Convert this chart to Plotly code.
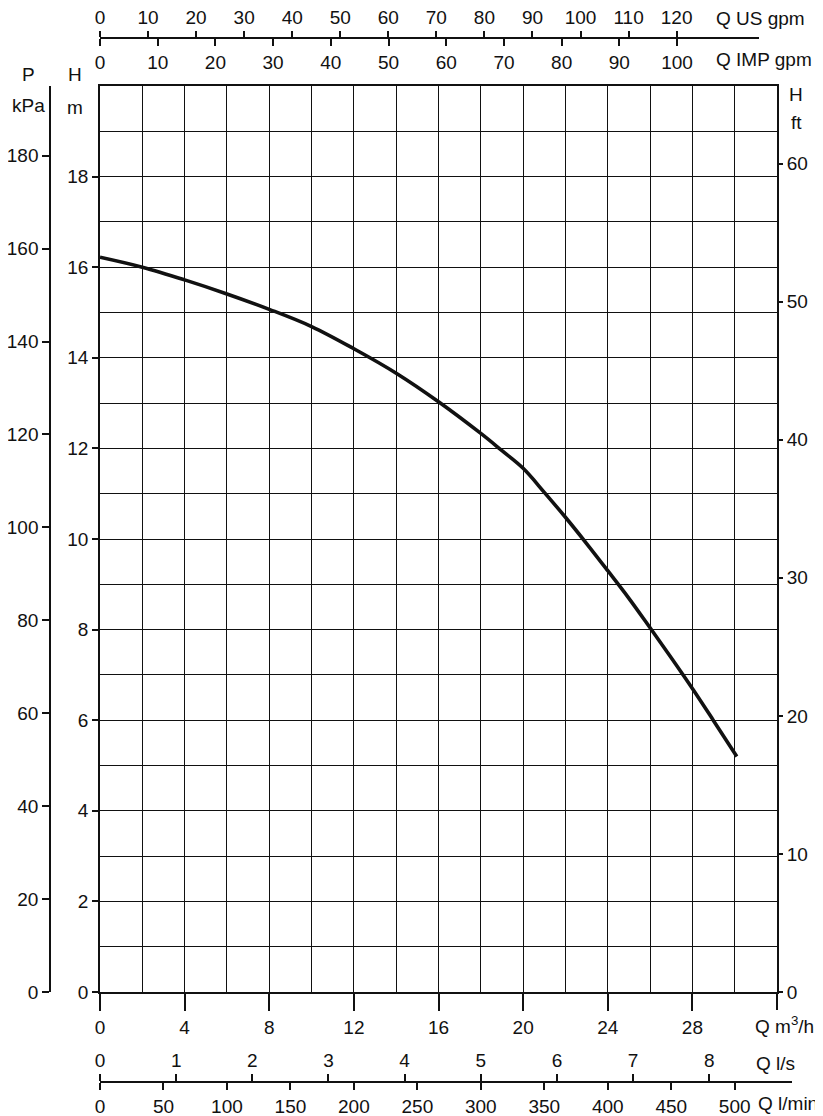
import plotly.graph_objects as go

# ---- data ----
Q_m3h = [0, 2, 4, 6, 8, 10, 12, 14, 16, 18, 19, 20, 21, 22, 23, 24, 25, 26, 27, 28, 29, 30.1]
H_m = [16.22, 16.0, 15.72, 15.41, 15.07, 14.69, 14.2, 13.66, 13.03, 12.33, 11.95, 11.56,
       11.03, 10.48, 9.9, 9.3, 8.69, 8.04, 7.38, 6.7, 5.99, 5.2]

m3h_ticks = [0, 4, 8, 12, 16, 20, 24, 28]
m3h_end_tick = [32]
H_ticks = [0, 2, 4, 6, 8, 10, 12, 14, 16, 18]
ft_ticks = [0, 10, 20, 30, 40, 50, 60]
kpa_ticks = [0, 20, 40, 60, 80, 100, 120, 140, 160, 180]
usgpm_ticks = [0, 10, 20, 30, 40, 50, 60, 70, 80, 90, 100, 110, 120]
impgpm_ticks = [0, 10, 20, 30, 40, 50, 60, 70, 80, 90, 100]
ls_ticks = [0, 1, 2, 3, 4, 5, 6, 7, 8]
lmin_ticks = [0, 50, 100, 150, 200, 250, 300, 350, 400, 450, 500]

# unit conversions
FT_PER_M = 3.28084
KPA_PER_M = 9.75
USGPM_PER_M3H = 4.4029
IMPGPM_PER_M3H = 3.6662
LS_PER_M3H = 1 / 3.6
LMIN_PER_M3H = 1000 / 60

Q_MAX = 32
H_MAX = 20

# ---- layout geometry (page pixels; the page body has an 8px margin) ----
OFF = 8
W, HT = 815, 1108
ML, MR, MT, MB = 42, 10, 2, 2
CW = W - ML - MR
CH = HT - MT - MB


def fx(px):
    return (px - OFF - ML) / CW


def fy(py):
    return (HT - MB - (py - OFF)) / CH


PX0, PX1, PY0, PY1 = 100, 777, 86, 992
TOP_END = 759      # end of top gpm axis line
BOT_END = 792      # end of lower l/s axis line
q_top_end = (TOP_END - PX0) / (PX1 - PX0) * Q_MAX
q_bot_end = (BOT_END - PX0) / (PX1 - PX0) * Q_MAX

FONT = "Liberation Sans, Arial, sans-serif"
FS = 19
INK = "#111111"
LW = 1.5
GW = 1.4

fig = go.Figure()
fig.add_trace(go.Scatter(x=Q_m3h, y=H_m, mode="lines",
                         line=dict(color=INK, width=3.6, shape="spline", smoothing=1.0),
                         showlegend=False, hoverinfo="skip"))
# invisible anchors for secondary axes
for xa, ya in [("x2", "y4"), ("x3", "y4"), ("x4", "y4"), ("x5", "y4"), ("x6", "y"), ("x", "y2"), ("x", "y3")]:
    fig.add_trace(go.Scatter(x=[0], y=[0], xaxis=xa, yaxis=ya, mode="markers",
                             marker=dict(opacity=0), showlegend=False, hoverinfo="skip"))

common = dict(linecolor=INK, linewidth=LW, tickcolor=INK, tickwidth=LW, automargin=False,
              tickfont=dict(family=FONT, size=FS, color=INK), zeroline=False, fixedrange=True)

fig.update_layout(
    width=W, height=HT,
    margin=dict(l=ML, r=MR, t=MT, b=MB, autoexpand=False),
    paper_bgcolor="white", plot_bgcolor="rgba(0,0,0,0)",
    xaxis=dict(domain=[fx(PX0), fx(PX1)], range=[0, Q_MAX], anchor="y",
               tickmode="array", tickvals=m3h_ticks,
               ticks="outside", ticklen=17, showline=True, mirror=True,
               showgrid=True, gridcolor=INK, gridwidth=GW,
               minor=dict(tickmode="linear", tick0=0, dtick=2, showgrid=True,
                          gridcolor=INK, gridwidth=GW, ticks=""),
               **common),
    xaxis6=dict(overlaying="x", anchor="y", side="bottom", range=[0, Q_MAX],
                tickmode="array", tickvals=m3h_end_tick, showticklabels=False,
                ticks="outside", ticklen=17, showline=False, showgrid=False, **common),
    yaxis=dict(domain=[fy(PY1), fy(PY0)], range=[0, H_MAX], anchor="x",
               tickmode="array", tickvals=H_ticks,
               ticks="outside", ticklen=6, showline=True, mirror=True,
               showgrid=True, gridcolor=INK, gridwidth=GW,
               minor=dict(tickmode="linear", tick0=0, dtick=1, showgrid=True,
                          gridcolor=INK, gridwidth=GW, ticks=""),
               **common),
    yaxis2=dict(overlaying="y", side="right", anchor="x", range=[0, H_MAX * FT_PER_M],
                tickmode="array", tickvals=ft_ticks, ticks="outside", ticklen=5,
                showline=False, showgrid=False, **common),
    yaxis3=dict(overlaying="y", side="left", anchor="free", position=0,
                range=[0, H_MAX * KPA_PER_M], tickmode="array", tickvals=kpa_ticks,
                ticks="outside", ticklen=7, showline=True, showgrid=False, **common),
    yaxis4=dict(domain=[0, 1], anchor="free", position=1, visible=False,
                showgrid=False, range=[0, 1], fixedrange=True),
    xaxis2=dict(domain=[fx(PX0), fx(TOP_END)], range=[0, q_top_end * USGPM_PER_M3H],
                anchor="free", position=fy(38), side="top",
                tickmode="array", tickvals=usgpm_ticks, ticks="outside", ticklen=6,
                showline=True, showgrid=False, **common),
    xaxis3=dict(domain=[fx(PX0), fx(TOP_END)], range=[0, q_top_end * IMPGPM_PER_M3H],
                anchor="free", position=fy(38), side="bottom",
                tickmode="array", tickvals=impgpm_ticks, ticks="outside", ticklen=7,
                showline=True, showgrid=False, **common),
    xaxis4=dict(domain=[fx(PX0), fx(BOT_END)], range=[0, q_bot_end * LS_PER_M3H],
                anchor="free", position=fy(1082), side="top",
                tickmode="array", tickvals=ls_ticks, ticks="outside", ticklen=7,
                showline=True, showgrid=False, **common),
    xaxis5=dict(domain=[fx(PX0), fx(BOT_END)], range=[0, q_bot_end * LMIN_PER_M3H],
                anchor="free", position=fy(1082), side="bottom",
                tickmode="array", tickvals=lmin_ticks, ticks="outside", ticklen=7,
                showline=True, showgrid=False, **common),
)

labels = [
    ("P", 28, 75, "center"), ("kPa", 28, 105, "center"),
    ("H", 75, 75, "center"), ("m", 75, 107, "center"),
    ("H", 796, 95, "center"), ("ft", 796, 123, "center"),
    ("Q US gpm", 714, 18, "left"), ("Q IMP gpm", 714, 60, "left"),
    ("Q m<sup>3</sup>/h", 753, 1025, "left"), ("Q l/s", 754, 1063, "left"),
    ("Q l/min", 756, 1103, "left"),
]
for txt, x, y, al in labels:
    fig.add_annotation(text=txt, x=fx(x), y=fy(y), xref="paper", yref="paper",
                       xanchor=al, yanchor="middle", showarrow=False,
                       font=dict(family=FONT, size=FS, color=INK))

fig.write_html("out.html")
